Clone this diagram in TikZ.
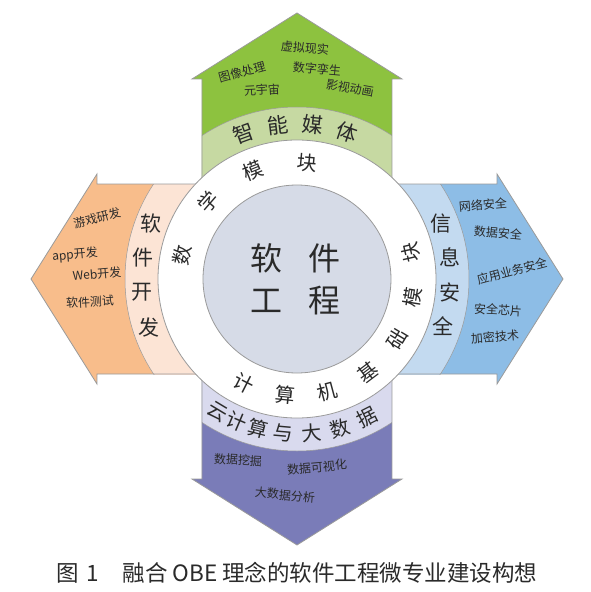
\documentclass[tikz,border=0pt]{standalone}
\usepackage{fontspec}
\setmainfont{Noto Sans CJK SC}

\definecolor{mediagreen}{HTML}{8DC23F}
\definecolor{medialight}{HTML}{C6D9A2}
\definecolor{devorange}{HTML}{F8BD8B}
\definecolor{devlight}{HTML}{FCE4D5}
\definecolor{secblue}{HTML}{8DBDE6}
\definecolor{seclight}{HTML}{C3DAF0}
\definecolor{cloudpurple}{HTML}{7A7CB8}
\definecolor{cloudlight}{HTML}{D9DAEE}
\definecolor{corefill}{HTML}{D6DBE7}
\definecolor{edgegrey}{HTML}{9A9A9A}
\definecolor{inkgrey}{HTML}{2A2A2A}

\begin{document}
\begin{tikzpicture}[x=1pt,y=1pt]

\useasboundingbox (-297,-313) rectangle (294,279);

% Draw the four arrows and their bands
\foreach \ang/\dark/\light in {0/mediagreen/medialight,90/devorange/devlight,180/cloudpurple/cloudlight,270/secblue/seclight}{
  \begin{scope}[rotate=\ang]
    \fill[\dark] (-95,0) -- (-95,200) -- (-105,200) -- (0,266) -- (105,200) -- (95,200) -- (95,0) -- cycle;
    \begin{scope}
      \clip (-95,0) rectangle (95,200);
      \fill[\light] (0,0) circle (172);
      \draw[edgegrey,line width=0.5] (0,0) circle (172);
    \end{scope}
    \draw[edgegrey,line width=0.8] (-95,0) -- (-95,200) -- (-105,200) -- (0,266) -- (105,200) -- (95,200) -- (95,0);
  \end{scope}
}

% Draw the ring and the core
\node[circle,draw=edgegrey,line width=0.8,fill=white,minimum size=278pt,inner sep=0pt] (ring) at (0,0) {};
\node[circle,draw=edgegrey,line width=0.8,fill=corefill,minimum size=188pt,inner sep=0pt] (core) at (0,0) {};

\tikzstyle{every node}=[inner sep=0pt,text=inkgrey];

% Core text
\node[font=\fontsize{32}{32}\selectfont] (core1) at (-30,21) {软};
\node[font=\fontsize{32}{32}\selectfont] (core2) at (28,21) {件};
\node[font=\fontsize{32}{32}\selectfont] (core3) at (-30,-22) {工};
\node[font=\fontsize{32}{32}\selectfont] (core4) at (28,-22) {程};

% Texts on the ring
\tikzstyle{ringtext}=[font=\fontsize{20}{20}\selectfont];
\foreach \ch/\a [count=\i] in {数/168,学/139,模/112,块/85}
  \node[ringtext,rotate=\a-90] (math\i) at (\a:117) {\ch};
\foreach \ch/\a [count=\i] in {计/-117,算/-96,机/-75,基/-53,础/-31,模/-9,块/13}
  \node[ringtext,rotate=\a+90] (base\i) at (\a:117) {\ch};

% Texts on the bands
\tikzstyle{bandtext}=[font=\fontsize{21}{21}\selectfont];
\foreach \ch/\a [count=\i] in {智/110,能/97,媒/84,体/71}
  \node[bandtext,rotate=\a-90] (media\i) at (\a:155) {\ch};
\foreach \ch/\a [count=\i] in {软/159,件/172,开/185,发/198}
  \node[bandtext] (dev\i) at (\a:156) {\ch};
\foreach \ch/\a [count=\i] in {信/21,息/8,安/-5,全/-18}
  \node[bandtext] (sec\i) at (\a:154) {\ch};
\foreach \ch/\a [count=\i] in {云/-121,计/-113,算/-104.5,与/-95,大/-84.5,数/-74,据/-63}
  \node[bandtext,font=\fontsize{20}{20}\selectfont,rotate=\a+90] (cloud\i) at (\a:155) {\ch};

% Texts in the arrows
\tikzstyle{itemtext}=[font=\fontsize{12}{12}\selectfont];
\node[itemtext,rotate=15] (m1) at (-55,207) {图像处理};
\node[itemtext,rotate=-5] (m2) at (8,231) {虚拟现实};
\node[itemtext,rotate=-5] (m3) at (20,210) {数字孪生};
\node[itemtext,rotate=3] (m4) at (-35,189) {元宇宙};
\node[itemtext,rotate=-10] (m5) at (53,191) {影视动画};

\node[itemtext,rotate=15] (d1) at (-200,61) {游戏研发};
\node[itemtext,rotate=5] (d2) at (-222,24) {app开发};
\node[itemtext,rotate=5] (d3) at (-200,5) {Web开发};
\node[itemtext,rotate=3] (d4) at (-207,-23) {软件测试};

\node[itemtext,rotate=5] (s1) at (186,74) {网络安全};
\node[itemtext,rotate=-5] (s2) at (201,46) {数据安全};
\node[itemtext,rotate=15] (s3) at (215,8) {应用业务安全};
\node[itemtext,rotate=-3] (s4) at (201,-31) {安全芯片};
\node[itemtext,rotate=5] (s5) at (198,-58) {加密技术};

\node[itemtext,rotate=-3] (c1) at (-59,-181) {数据挖掘};
\node[itemtext,rotate=5] (c2) at (20,-188) {数据可视化};
\node[itemtext,rotate=-5] (c3) at (-12,-216) {大数据分析};

% Caption
\node[font=\fontsize{22.5}{22.5}\selectfont] (caption) at (0,-294) {图\hspace{7pt}1\hspace{24pt}融合 OBE 理念的软件工程微专业建设构想};

\end{tikzpicture}
\end{document}
